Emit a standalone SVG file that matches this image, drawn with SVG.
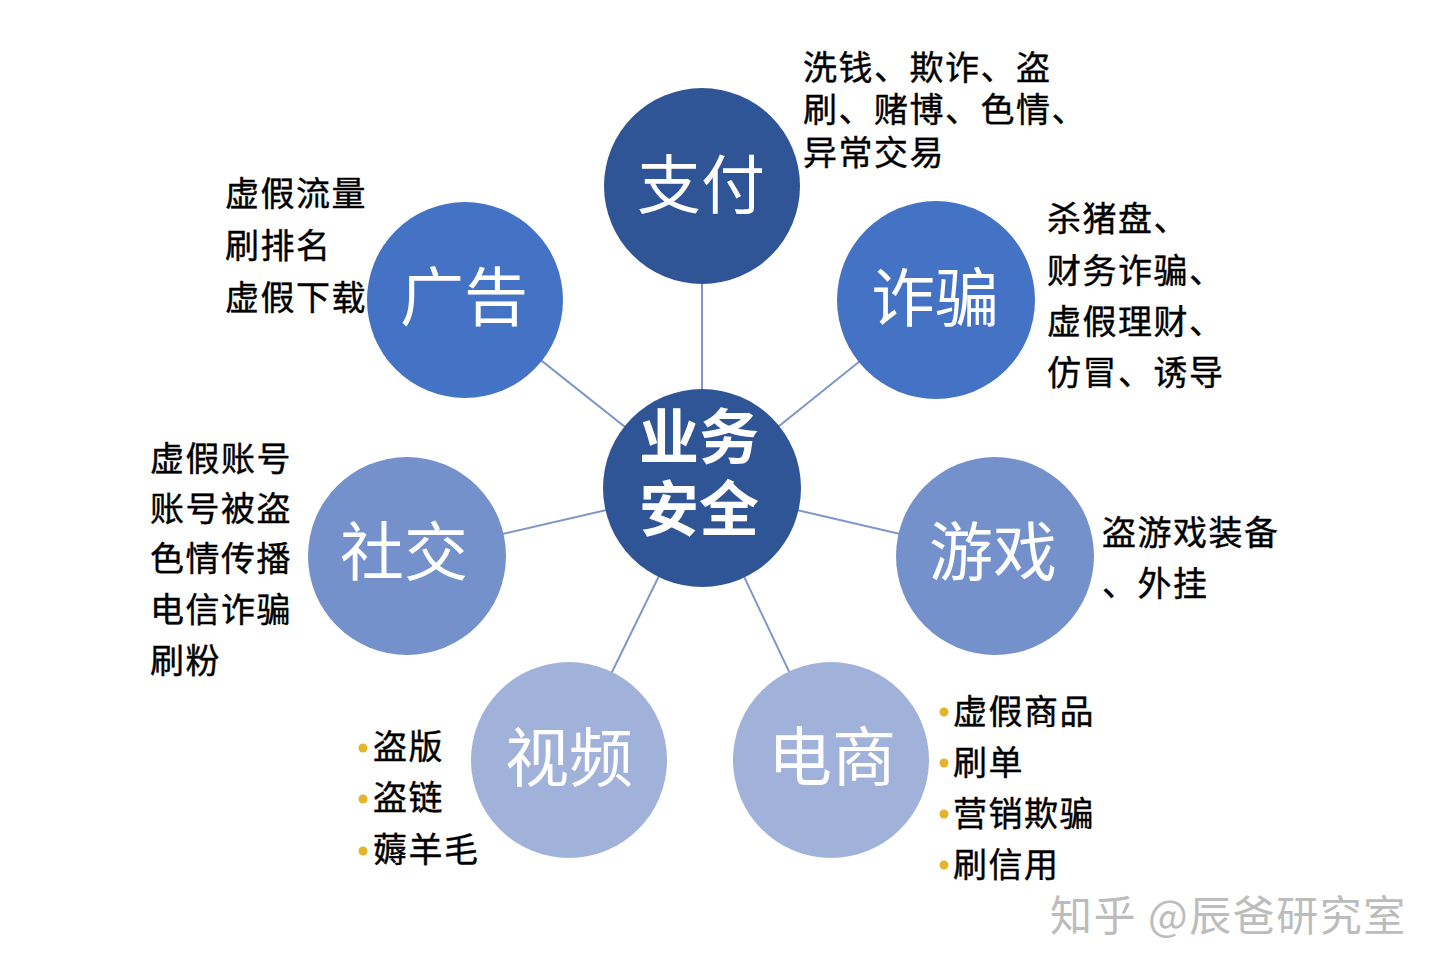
<svg xmlns="http://www.w3.org/2000/svg" width="1440" height="973" viewBox="0 0 1440 973">
<style>
.node-label{font-family:"Noto Sans CJK SC","Noto Sans",sans-serif;fill:#ffffff;font-size:64px;text-anchor:middle}
.hub-label{font-family:"Noto Sans CJK SC","Noto Sans",sans-serif;fill:#ffffff;font-size:60px;font-weight:bold;text-anchor:middle}
.note{font-family:"Noto Sans CJK SC","Noto Sans",sans-serif;fill:#000000;stroke:#000000;stroke-width:0.4px;font-size:34px;letter-spacing:1.5px}
.c1{fill:#2F5597}
.c2{fill:#4472C4}
.c3{fill:#7491CB}
.c4{fill:#A0B1DA}
.dot{fill:#E2B52B}
.link{stroke:#8096C6;stroke-width:2;fill:none}
.wm{font-family:"Noto Sans CJK SC","Noto Sans",sans-serif;fill:#bcbcbc;font-size:42px;letter-spacing:1.5px}
</style>
<rect width="1440" height="973" fill="#ffffff"/>
<g id="connectors">
<line class="link" x1="702" y1="488" x2="702" y2="186"/>
<line class="link" x1="702" y1="488" x2="936" y2="300"/>
<line class="link" x1="702" y1="488" x2="465" y2="300"/>
<line class="link" x1="702" y1="488" x2="407" y2="556"/>
<line class="link" x1="702" y1="488" x2="995" y2="556"/>
<line class="link" x1="702" y1="488" x2="569" y2="760"/>
<line class="link" x1="702" y1="488" x2="831" y2="760"/>
</g>
<g id="hub">
<circle class="c1" cx="702" cy="488" r="99"/>
<text class="hub-label" x="699" y="459">业务</text>
<text class="hub-label" x="699" y="531">安全</text>
</g>
<g id="node-pay">
<circle class="c1" cx="702" cy="186" r="98"/>
<text class="node-label" x="701" y="208">支付</text>
<text class="note" x="803" y="80">洗钱、欺诈、盗</text>
<text class="note" x="803" y="122">刷、赌博、色情、</text>
<text class="note" x="803" y="165">异常交易</text>
</g>
<g id="node-fraud">
<circle class="c2" cx="936" cy="300" r="99"/>
<text class="node-label" x="935" y="321">诈骗</text>
<text class="note" x="1047" y="231">杀猪盘、</text>
<text class="note" x="1047" y="283">财务诈骗、</text>
<text class="note" x="1047" y="334">虚假理财、</text>
<text class="note" x="1047" y="385">仿冒、诱导</text>
</g>
<g id="node-ad">
<circle class="c2" cx="465" cy="300" r="98"/>
<text class="node-label" x="464" y="320">广告</text>
<text class="note" x="225" y="206">虚假流量</text>
<text class="note" x="225" y="258">刷排名</text>
<text class="note" x="225" y="310">虚假下载</text>
</g>
<g id="node-social">
<circle class="c3" cx="407" cy="556" r="99"/>
<text class="node-label" x="404" y="575">社交</text>
<text class="note" x="150" y="471">虚假账号</text>
<text class="note" x="150" y="521">账号被盗</text>
<text class="note" x="150" y="571">色情传播</text>
<text class="note" x="150" y="622">电信诈骗</text>
<text class="note" x="150" y="673">刷粉</text>
</g>
<g id="node-game">
<circle class="c3" cx="995" cy="556" r="99"/>
<text class="node-label" x="993" y="575">游戏</text>
<text class="note" x="1102" y="545">盗游戏装备</text>
<text class="note" x="1102" y="596">、外挂</text>
</g>
<g id="node-video">
<circle class="c4" cx="569" cy="760" r="98"/>
<text class="node-label" x="569" y="781">视频</text>
<circle class="dot" cx="363" cy="748" r="4.5"/>
<circle class="dot" cx="363" cy="799" r="4.5"/>
<circle class="dot" cx="363" cy="851" r="4.5"/>
<text class="note" x="373" y="759">盗版</text>
<text class="note" x="373" y="810">盗链</text>
<text class="note" x="373" y="862">薅羊毛</text>
</g>
<g id="node-ecom">
<circle class="c4" cx="831" cy="760" r="98"/>
<text class="node-label" x="832" y="780">电商</text>
<circle class="dot" cx="944" cy="712" r="4.5"/>
<circle class="dot" cx="944" cy="763" r="4.5"/>
<circle class="dot" cx="944" cy="814" r="4.5"/>
<circle class="dot" cx="944" cy="865" r="4.5"/>
<text class="note" x="953" y="724">虚假商品</text>
<text class="note" x="953" y="775">刷单</text>
<text class="note" x="953" y="826">营销欺骗</text>
<text class="note" x="953" y="877">刷信用</text>
</g>
<g id="watermark">
<text class="wm" x="1050" y="931">知乎 @辰爸研究室</text>
</g>
</svg>
